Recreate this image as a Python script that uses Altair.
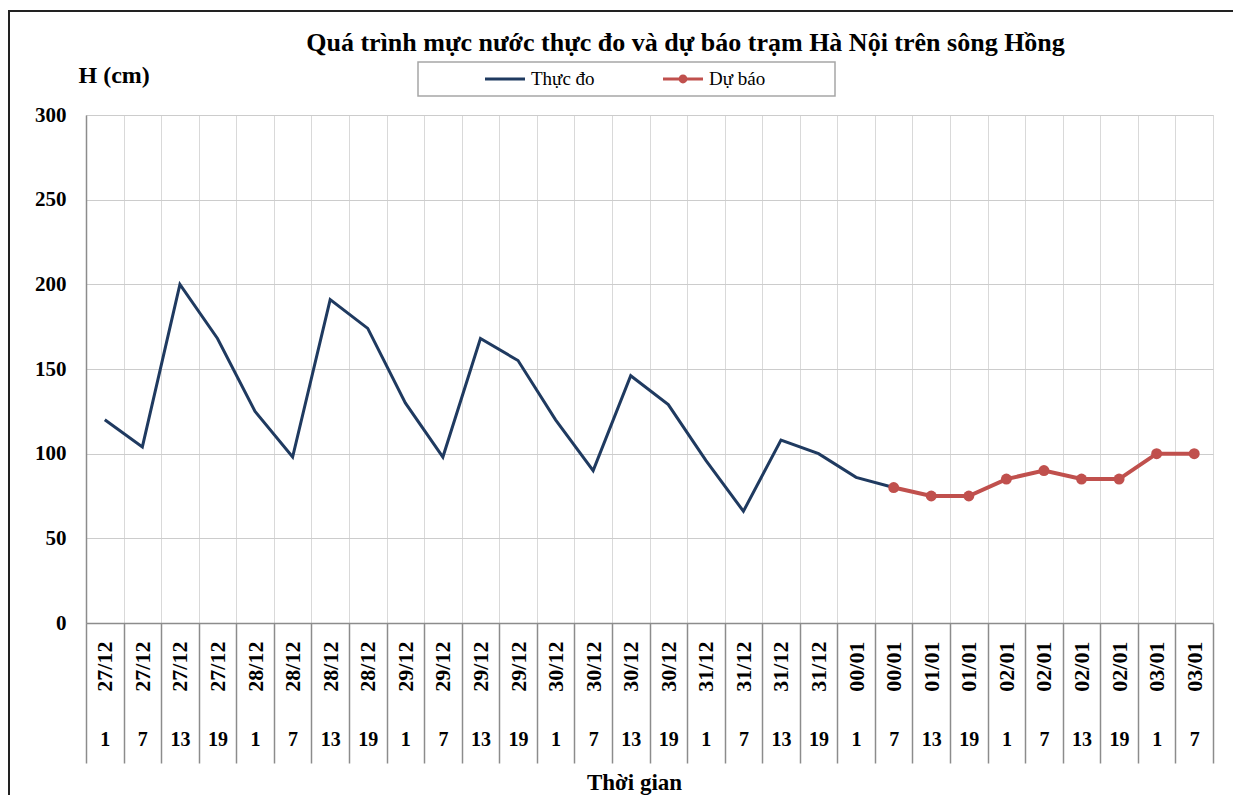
import altair as alt
import pandas as pd

FONT = "Liberation Serif"

title_text = "Quá trình mực nước thực đo và dự báo trạm Hà Nội trên sông Hồng"
x_title = "Thời gian"
y_title = "H (cm)"
series_names = ["Thực đo", "Dự báo"]
series_colors = ["#1F3A60", "#C0504D"]

dates = ["27/12", "27/12", "27/12", "27/12",
         "28/12", "28/12", "28/12", "28/12",
         "29/12", "29/12", "29/12", "29/12",
         "30/12", "30/12", "30/12", "30/12",
         "31/12", "31/12", "31/12", "31/12",
         "00/01", "00/01", "01/01", "01/01",
         "02/01", "02/01", "02/01", "02/01",
         "03/01", "03/01"]
hours = [1, 7, 13, 19, 1, 7, 13, 19, 1, 7, 13, 19, 1, 7, 13, 19,
         1, 7, 13, 19, 1, 7, 13, 19, 1, 7, 13, 19, 1, 7]

observed = [120, 104, 200, 168, 125, 98, 191, 174, 130, 98, 168, 155,
            120, 90, 146, 129, 96, 66, 108, 100, 86, 80]
forecast_start = 21
forecast = [80, 75, 75, 85, 90, 85, 85, 100, 100]
y_ticks = [0, 50, 100, 150, 200, 250, 300]

rows = []
for i, v in enumerate(observed):
    rows.append({"pos": i + 0.5, "H": v, "series": series_names[0]})
for j, v in enumerate(forecast):
    rows.append({"pos": forecast_start + j + 0.5, "H": v, "series": series_names[1]})
df = pd.DataFrame(rows)

n = len(dates)
centers = [i + 0.5 for i in range(n)]
date_expr = "[" + ",".join("'%s'" % d for d in dates) + "][floor(datum.value)]"
hour_expr = "[" + ",".join("'%s'" % h for h in hours) + "][floor(datum.value)]"

xscale = alt.Scale(domain=[0, n], nice=False, zero=False)
yscale = alt.Scale(domain=[0, 300], nice=False)

base = alt.Chart(df)

# observed line, with main x axis (grid + separators + title) and the y axis
obs = base.transform_filter(alt.datum.series == series_names[0]).mark_line(
    color=series_colors[0], strokeWidth=3
).encode(
    x=alt.X("pos:Q", scale=xscale, axis=alt.Axis(
        values=list(range(n + 1)), grid=True, gridColor="#d9d9d9", gridWidth=1,
        ticks=True, tickSize=140, tickColor="#8c8c8c", tickWidth=1.5,
        labels=False, domain=True, domainColor="#8c8c8c", domainWidth=1.5,
        title=x_title, titleFont=FONT, titleFontSize=23, titleFontWeight="bold",
        titleColor="black", titleX=548, titleY=159, titleAlign="center",
        titleBaseline="middle")),
    y=alt.Y("H:Q", scale=yscale, axis=alt.Axis(
        orient="left", values=y_ticks, grid=True, gridColor="#cccccc", gridWidth=1,
        ticks=False, domain=True, domainColor="#8c8c8c", domainWidth=1.5,
        labelFont=FONT, labelFontSize=21, labelFontWeight="bold", labelColor="black",
        labelPadding=20,
        title=y_title, titleAngle=0, titleX=-8, titleY=-40, titleAlign="left",
        titleBaseline="middle", titleFont=FONT, titleFontSize=24,
        titleFontWeight="bold", titleColor="black")),
)

# forecast line, carrying the date labels axis
fc_line = base.transform_filter(alt.datum.series == series_names[1]).mark_line(
    color=series_colors[1], strokeWidth=4
).encode(
    x=alt.X("pos:Q", scale=xscale, axis=alt.Axis(
        orient="bottom", values=centers, labelExpr=date_expr, labelAngle=270,
        labelFont=FONT, labelFontSize=22, labelFontWeight="bold", labelColor="black",
        labelPadding=18, labelOverlap=False, labelFlush=False,
        ticks=False, tickSize=0, domain=False, grid=False, title=None)),
    y=alt.Y("H:Q", scale=yscale, axis=None),
)

# forecast points, carrying the hour labels axis
fc_pts = base.transform_filter(alt.datum.series == series_names[1]).mark_circle(
    color=series_colors[1], size=120, opacity=1
).encode(
    x=alt.X("pos:Q", scale=xscale, axis=alt.Axis(
        orient="bottom", values=centers, labelExpr=hour_expr, labelAngle=0,
        labelFont=FONT, labelFontSize=20, labelFontWeight="bold", labelColor="black",
        labelPadding=106, labelOverlap=False, labelFlush=False, labelAlign="center",
        labelBaseline="top",
        ticks=False, tickSize=0, domain=False, grid=False, title=None)),
    y=alt.Y("H:Q", scale=yscale, axis=None),
)

# legend (invisible marks, legend only)
line_path = "M-1,-0.07L1,-0.07L1,0.07L-1,0.07Z"
dot_path = line_path + "M0.22,0A0.22,0.22,0,1,1,-0.22,0A0.22,0.22,0,1,1,0.22,0Z"
leg_props = dict(orient="none", legendX=399, legendY=-56, direction="horizontal",
                 title=None, symbolSize=1600, symbolStrokeWidth=0, symbolOpacity=1,
                 labelFont=FONT, labelFontSize=19, labelColor="black", labelOffset=6,
                 columnPadding=68, padding=0)
leg = base.mark_point(filled=True, opacity=0).encode(
    x=alt.X("pos:Q", scale=xscale, axis=None),
    y=alt.Y("H:Q", scale=yscale, axis=None),
    color=alt.Color("series:N", scale=alt.Scale(domain=series_names, range=series_colors),
                    legend=alt.Legend(**leg_props)),
    shape=alt.Shape("series:N", scale=alt.Scale(domain=series_names, range=[line_path, dot_path]),
                    legend=alt.Legend(**leg_props)),
)

one = alt.Chart(pd.DataFrame({"k": [0]}))
border_left = one.mark_rule(color="#222222", strokeWidth=2).encode(
    x=alt.value(-77), y=alt.value(-104), y2=alt.value(700))
border_top = one.mark_rule(color="#222222", strokeWidth=2).encode(
    x=alt.value(-78), x2=alt.value(1160), y=alt.value(-104))
legbox = one.mark_rect(fill="white", stroke="#a6a6a6", strokeWidth=1.5).encode(
    x=alt.value(332), x2=alt.value(749), y=alt.value(-53), y2=alt.value(-19))

chart = alt.layer(border_left, border_top, legbox, obs, fc_line, fc_pts, leg).resolve_axis(
    x="independent", y="independent"
).properties(
    width=1127, height=508,
    title=alt.TitleParams(text=title_text, font=FONT, fontSize=26, fontWeight="bold",
                          color="black", anchor="middle", dx=36, offset=0, dy=46),
    autosize=alt.AutoSizeParams(type="none"),
    padding={"left": 78, "top": 107, "right": 20, "bottom": 172},
).configure_view(stroke="#a0a0a0", strokeWidth=1.5).configure(background="white")

chart.save("out.html", embed_options={"renderer": "svg", "actions": False})
